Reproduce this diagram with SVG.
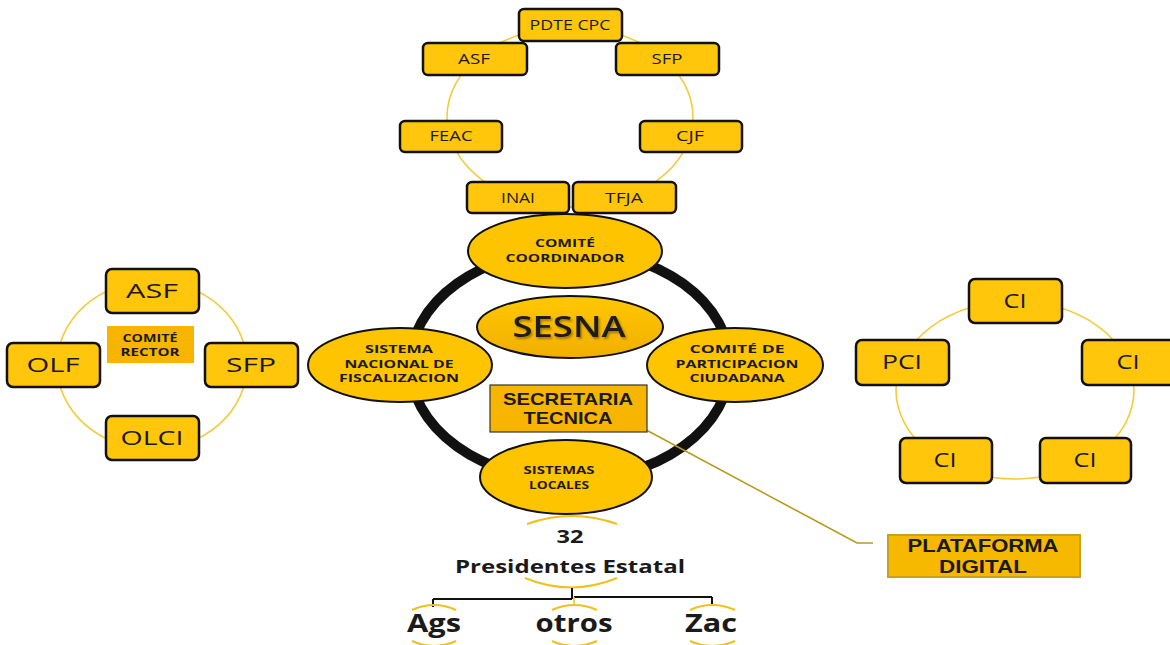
<svg xmlns="http://www.w3.org/2000/svg" width="1170" height="645" viewBox="0 0 1170 645">
<defs>
<style>
.box{fill:#FFC60B;stroke:#111;stroke-width:2.5}
.ell{fill:#FFC400;stroke:#111;stroke-width:2}
.ring{fill:none;stroke:#F2CC3A;stroke-width:1.6}
.arc{fill:none;stroke:#F0C020;stroke-width:2}
.t{font-family:"Open Sans","DejaVu Sans",sans-serif;fill:#1a1a1a;text-anchor:middle}
.tb{font-family:"Open Sans","DejaVu Sans",sans-serif;font-weight:bold;fill:#1a1a1a;text-anchor:middle}
.ta{font-family:"Liberation Sans",Arial,sans-serif;font-weight:bold;fill:#1a1a1a;text-anchor:middle}
</style>
<linearGradient id="gs" x1="0" y1="0" x2="0" y2="1">
<stop offset="0" stop-color="#FFC800"/><stop offset="1" stop-color="#F2AE00"/>
</linearGradient>
<filter id="sh" x="-10%" y="-20%" width="130%" height="150%">
<feDropShadow dx="1.5" dy="2" stdDeviation="1" flood-color="#000" flood-opacity="0.35"/>
</filter>
</defs>
<rect width="1170" height="645" fill="#fff"/>

<g id="connectors">
<ellipse class="ring" cx="570" cy="117" rx="123" ry="90"/>
<ellipse class="ring" cx="152" cy="365" rx="95" ry="84"/>
<ellipse class="ring" cx="1015" cy="390" rx="119" ry="89"/>
<ellipse cx="570" cy="365" rx="160" ry="115" fill="none" stroke="#111" stroke-width="10"/>
<path d="M622,417 L857,543 L873,543" fill="none" stroke="#B89A1A" stroke-width="1.6"/>
<path class="arc" d="M527,524 Q572,508 617,524"/>
<path class="arc" d="M525,578 Q571,597 617,578"/>
<path d="M572,588 V599 M433,599 H572 M574,597 H712 M433,599 V607 M712,597 V606" fill="none" stroke="#111" stroke-width="2"/>
<path d="M574,597 V606" fill="none" stroke="#F0C020" stroke-width="1.5"/>
<path class="arc" d="M412,610 Q434,600 456,610 M412,641 Q434,651 456,641"/>
<path class="arc" d="M552,610 Q574,600 597,610 M552,641 Q574,651 597,641"/>
<path class="arc" d="M690,610 Q712,600 735,610 M690,641 Q712,651 735,641"/>
</g>

<g id="n-pdte"><rect class="box" x="519" y="9" width="103" height="32" rx="5"/><text class="t" x="570" y="30" font-size="15" textLength="81" lengthAdjust="spacingAndGlyphs">PDTE CPC</text></g>
<g id="n-asf-top"><rect class="box" x="423" y="43" width="104" height="32" rx="5"/><text class="t" x="474" y="64" font-size="15" textLength="32" lengthAdjust="spacingAndGlyphs">ASF</text></g>
<g id="n-sfp-top"><rect class="box" x="616" y="43" width="103" height="32" rx="5"/><text class="t" x="667" y="64" font-size="15" textLength="31" lengthAdjust="spacingAndGlyphs">SFP</text></g>
<g id="n-feac"><rect class="box" x="400" y="121" width="102" height="31" rx="5"/><text class="t" x="451" y="141" font-size="15" textLength="43" lengthAdjust="spacingAndGlyphs">FEAC</text></g>
<g id="n-cjf"><rect class="box" x="640" y="121" width="102" height="31" rx="5"/><text class="t" x="690" y="141" font-size="15" textLength="28" lengthAdjust="spacingAndGlyphs">CJF</text></g>
<g id="n-inai"><rect class="box" x="467" y="182" width="102" height="31" rx="5"/><text class="t" x="518" y="203" font-size="15" textLength="34" lengthAdjust="spacingAndGlyphs">INAI</text></g>
<g id="n-tfja"><rect class="box" x="573" y="182" width="103" height="31" rx="5"/><text class="t" x="624" y="203" font-size="15" textLength="38" lengthAdjust="spacingAndGlyphs">TFJA</text></g>

<g id="n-asf-left"><rect class="box" x="106" y="269" width="93" height="44" rx="6"/><text class="t" x="152" y="298" font-size="20" textLength="52" lengthAdjust="spacingAndGlyphs">ASF</text></g>
<g id="n-olf"><rect class="box" x="7" y="343" width="93" height="44" rx="6"/><text class="t" x="53" y="372" font-size="20" textLength="53" lengthAdjust="spacingAndGlyphs">OLF</text></g>
<g id="n-sfp-left"><rect class="box" x="205" y="343" width="93" height="44" rx="6"/><text class="t" x="251" y="372" font-size="20" textLength="50" lengthAdjust="spacingAndGlyphs">SFP</text></g>
<g id="n-olci"><rect class="box" x="106" y="416" width="93" height="44" rx="6"/><text class="t" x="152" y="445" font-size="20" textLength="63" lengthAdjust="spacingAndGlyphs">OLCI</text></g>
<g id="n-comite-rector"><rect x="107" y="326" width="87" height="37" fill="#F7B500"/><text class="tb" x="150" y="342" font-size="10.5" textLength="55" lengthAdjust="spacingAndGlyphs">COMITÉ</text><text class="tb" x="150" y="356" font-size="10.5" textLength="59" lengthAdjust="spacingAndGlyphs">RECTOR</text></g>

<g id="n-ci-top"><rect class="box" x="969" y="279" width="93" height="44" rx="6"/><text class="t" x="1015" y="308" font-size="20" textLength="23" lengthAdjust="spacingAndGlyphs">CI</text></g>
<g id="n-pci"><rect class="box" x="856" y="340" width="93" height="45" rx="6"/><text class="t" x="902" y="369" font-size="20" textLength="40" lengthAdjust="spacingAndGlyphs">PCI</text></g>
<g id="n-ci-right"><rect class="box" x="1082" y="340" width="93" height="45" rx="6"/><text class="t" x="1128" y="369" font-size="20" textLength="23" lengthAdjust="spacingAndGlyphs">CI</text></g>
<g id="n-ci-bl"><rect class="box" x="900" y="438" width="92" height="45" rx="6"/><text class="t" x="945" y="467" font-size="20" textLength="23" lengthAdjust="spacingAndGlyphs">CI</text></g>
<g id="n-ci-br"><rect class="box" x="1040" y="438" width="91" height="45" rx="6"/><text class="t" x="1085" y="467" font-size="20" textLength="23" lengthAdjust="spacingAndGlyphs">CI</text></g>

<g id="n-comite-coord"><ellipse class="ell" cx="565" cy="251" rx="97" ry="37"/><text class="tb" x="565" y="247" font-size="11" textLength="60" lengthAdjust="spacingAndGlyphs">COMITÉ</text><text class="tb" x="565" y="262" font-size="11" textLength="119" lengthAdjust="spacingAndGlyphs">COORDINADOR</text></g>
<g id="n-sesna"><ellipse cx="570" cy="327" rx="93" ry="31" fill="url(#gs)" stroke="#111" stroke-width="2"/><text class="t" x="569" y="337" font-size="29" font-weight="600" textLength="113" lengthAdjust="spacingAndGlyphs" filter="url(#sh)">SESNA</text></g>
<g id="n-snf"><ellipse class="ell" cx="400" cy="365" rx="92" ry="37"/><text class="tb" x="399" y="353" font-size="10.5" textLength="68" lengthAdjust="spacingAndGlyphs">SISTEMA</text><text class="tb" x="399" y="368" font-size="10.5" textLength="109" lengthAdjust="spacingAndGlyphs">NACIONAL DE</text><text class="tb" x="399" y="382" font-size="10.5" textLength="120" lengthAdjust="spacingAndGlyphs">FISCALIZACION</text></g>
<g id="n-cpc"><ellipse class="ell" cx="735" cy="365" rx="88" ry="37"/><text class="tb" x="737" y="353" font-size="10.5" textLength="95" lengthAdjust="spacingAndGlyphs">COMITÉ DE</text><text class="tb" x="737" y="368" font-size="10.5" textLength="123" lengthAdjust="spacingAndGlyphs">PARTICIPACION</text><text class="tb" x="737" y="382" font-size="10.5" textLength="95" lengthAdjust="spacingAndGlyphs">CIUDADANA</text></g>
<g id="n-secretaria"><rect x="490" y="385" width="157" height="47" fill="#F7B500" stroke="#333" stroke-width="1.2"/><text class="ta" x="568" y="405" font-size="17" textLength="130" lengthAdjust="spacingAndGlyphs">SECRETARIA</text><text class="ta" x="568" y="424" font-size="17" textLength="89" lengthAdjust="spacingAndGlyphs">TECNICA</text></g>
<g id="n-locales"><ellipse class="ell" cx="566" cy="477" rx="86" ry="37"/><text class="tb" x="559" y="474" font-size="10.5" textLength="71" lengthAdjust="spacingAndGlyphs">SISTEMAS</text><text class="tb" x="559" y="489" font-size="10.5" textLength="60" lengthAdjust="spacingAndGlyphs">LOCALES</text></g>
<g id="n-plataforma"><rect x="888" y="535" width="192" height="42" fill="#F7B800" stroke="#C9A21A" stroke-width="2"/><text class="ta" x="983" y="552" font-size="18" font-weight="900" textLength="151" lengthAdjust="spacingAndGlyphs">PLATAFORMA</text><text class="ta" x="983" y="573" font-size="18" font-weight="900" textLength="88" lengthAdjust="spacingAndGlyphs">DIGITAL</text></g>

<g id="n-presidentes"><text class="tb" x="570" y="543" font-size="18" textLength="27" lengthAdjust="spacingAndGlyphs">32</text><text class="tb" x="570" y="573" font-size="18" textLength="230" lengthAdjust="spacingAndGlyphs">Presidentes Estatal</text></g>
<g id="n-ags"><text class="tb" x="434" y="632" font-size="25" textLength="54" lengthAdjust="spacingAndGlyphs">Ags</text></g>
<g id="n-otros"><text class="tb" x="574" y="632" font-size="25" textLength="77" lengthAdjust="spacingAndGlyphs">otros</text></g>
<g id="n-zac"><text class="tb" x="711" y="632" font-size="25" textLength="52" lengthAdjust="spacingAndGlyphs">Zac</text></g>
</svg>
